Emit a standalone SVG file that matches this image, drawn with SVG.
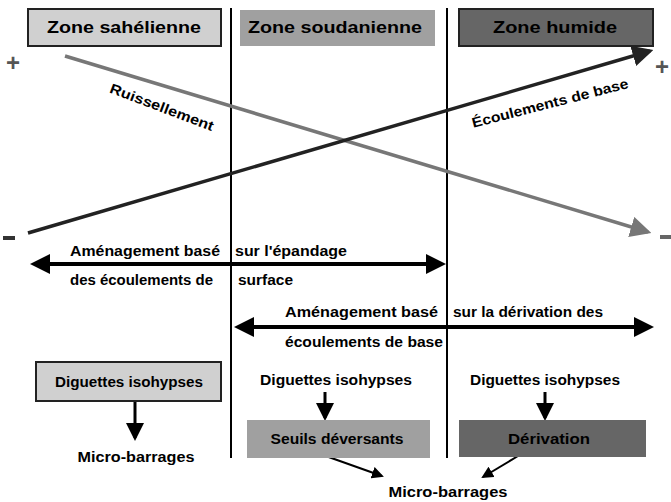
<svg xmlns="http://www.w3.org/2000/svg" width="671" height="502" viewBox="0 0 671 502">
<style>
text{font-family:"Liberation Sans",Arial,sans-serif;font-weight:bold;font-size:14px;fill:#000}
.t{font-size:16px}
.sign{fill:#555;font-size:24px}
.ln{stroke:#000;fill:none}
</style>
<defs>
<marker id="ab" markerWidth="6" markerHeight="6" refX="5" refY="3" orient="auto" markerUnits="strokeWidth"><path d="M0,0L6,3L0,6z" fill="#000"/></marker>
<marker id="ab2" markerWidth="5" markerHeight="5" refX="4" refY="2.5" orient="auto" markerUnits="strokeWidth"><path d="M0,0L5,2.5L0,5z" fill="#000"/></marker>
<marker id="ab2s" markerWidth="5" markerHeight="5" refX="1" refY="2.5" orient="auto" markerUnits="strokeWidth"><path d="M5,0L0,2.5L5,5z" fill="#000"/></marker>
<marker id="ag" markerWidth="6" markerHeight="6" refX="5" refY="3" orient="auto" markerUnits="strokeWidth"><path d="M0,0L6,3L0,6z" fill="#777"/></marker>
<marker id="ad" markerWidth="6" markerHeight="6" refX="5" refY="3" orient="auto" markerUnits="strokeWidth"><path d="M0,0L6,3L0,6z" fill="#222"/></marker>
</defs>

<g id="dividers">
<line class="ln" x1="231" y1="8" x2="231" y2="458" stroke-width="2"/>
<line class="ln" x1="447" y1="8" x2="447" y2="458" stroke-width="2"/>
</g>

<g id="zone-sahelienne">
<rect x="28" y="9" width="193" height="37" fill="#d0d0d0" stroke="#222" stroke-width="2"/>
<text class="t" x="124" y="33" text-anchor="middle" textLength="154" lengthAdjust="spacingAndGlyphs">Zone sahélienne</text>
</g>
<g id="zone-soudanienne">
<rect x="240" y="10" width="195" height="36" fill="#a0a0a0"/>
<text class="t" x="335" y="33" text-anchor="middle" textLength="174" lengthAdjust="spacingAndGlyphs">Zone soudanienne</text>
</g>
<g id="zone-humide">
<rect x="459" y="9" width="194" height="37" fill="#666" stroke="#222" stroke-width="2"/>
<text class="t" x="555" y="33" text-anchor="middle" textLength="124" lengthAdjust="spacingAndGlyphs">Zone humide</text>
</g>

<g id="signs">
<text class="sign" x="13" y="71" text-anchor="middle">+</text>
<text class="sign" x="662" y="75" text-anchor="middle">+</text>
<rect x="3" y="236" width="12" height="4" fill="#333"/>
<rect x="660" y="235" width="11" height="4" fill="#666"/>
</g>

<g id="connectors">
<line x1="65" y1="56" x2="648" y2="232" stroke="#777" stroke-width="3.5" marker-end="url(#ag)"/>
<line x1="28" y1="233" x2="650" y2="51" stroke="#222" stroke-width="3.5" marker-end="url(#ad)"/>
<line x1="34" y1="264" x2="442" y2="264" stroke="#000" stroke-width="4" marker-start="url(#ab2s)" marker-end="url(#ab2)"/>
<line x1="238" y1="327" x2="650" y2="327" stroke="#000" stroke-width="4" marker-start="url(#ab2s)" marker-end="url(#ab2)"/>
<line x1="135" y1="401" x2="135" y2="438" stroke="#000" stroke-width="3" marker-end="url(#ab)"/>
<line x1="325" y1="392" x2="325" y2="418" stroke="#000" stroke-width="3" marker-end="url(#ab)"/>
<line x1="545" y1="392" x2="545" y2="418" stroke="#000" stroke-width="3" marker-end="url(#ab)"/>
<line x1="323" y1="455" x2="382" y2="476" stroke="#000" stroke-width="2" marker-end="url(#ab)"/>
<line x1="518" y1="456" x2="483" y2="477" stroke="#000" stroke-width="2" marker-end="url(#ab)"/>
</g>

<g id="label-ruissellement">
<text x="162" y="112" text-anchor="middle" transform="rotate(20.7 162 107)" textLength="110" lengthAdjust="spacingAndGlyphs">Ruissellement</text>
</g>
<g id="label-ecoulements">
<text x="550" y="108" text-anchor="middle" transform="rotate(-14.4 550 103)" textLength="161" lengthAdjust="spacingAndGlyphs">Écoulements de base</text>
</g>

<g id="label-amenagement-surface">
<text x="220" y="256" text-anchor="end" textLength="150" lengthAdjust="spacingAndGlyphs">Aménagement basé</text>
<text x="235" y="256" textLength="112" lengthAdjust="spacingAndGlyphs">sur l'épandage</text>
<text x="213" y="285" text-anchor="end" textLength="143" lengthAdjust="spacingAndGlyphs">des écoulements de</text>
<text x="238" y="285" textLength="55" lengthAdjust="spacingAndGlyphs">surface</text>
</g>

<g id="label-amenagement-base">
<text x="438" y="317" text-anchor="end" textLength="153" lengthAdjust="spacingAndGlyphs">Aménagement basé</text>
<text x="453" y="317" textLength="150" lengthAdjust="spacingAndGlyphs">sur la dérivation des</text>
<text x="285" y="347" textLength="158" lengthAdjust="spacingAndGlyphs">écoulements de base</text>
</g>

<g id="diguettes-sahel">
<rect x="36" y="362" width="185" height="39" fill="#d0d0d0" stroke="#222" stroke-width="2"/>
<text x="129" y="387" text-anchor="middle" textLength="148" lengthAdjust="spacingAndGlyphs">Diguettes isohypses</text>
</g>
<g id="micro-barrages-sahel">
<text x="136" y="462" text-anchor="middle" textLength="117" lengthAdjust="spacingAndGlyphs">Micro-barrages</text>
</g>
<g id="diguettes-soudan">
<text x="336" y="385" text-anchor="middle" textLength="152" lengthAdjust="spacingAndGlyphs">Diguettes isohypses</text>
</g>
<g id="seuils">
<rect x="247" y="420" width="183" height="38" fill="#a0a0a0"/>
<text x="337" y="444" text-anchor="middle" textLength="133" lengthAdjust="spacingAndGlyphs">Seuils déversants</text>
</g>
<g id="diguettes-humide">
<text x="545" y="385" text-anchor="middle" textLength="150" lengthAdjust="spacingAndGlyphs">Diguettes isohypses</text>
</g>
<g id="derivation">
<rect x="459" y="420" width="187" height="37" fill="#666"/>
<text x="549" y="444" text-anchor="middle" textLength="82" lengthAdjust="spacingAndGlyphs">Dérivation</text>
</g>
<g id="micro-barrages-bottom">
<text x="448" y="497" text-anchor="middle" textLength="119" lengthAdjust="spacingAndGlyphs">Micro-barrages</text>
</g>
</svg>
